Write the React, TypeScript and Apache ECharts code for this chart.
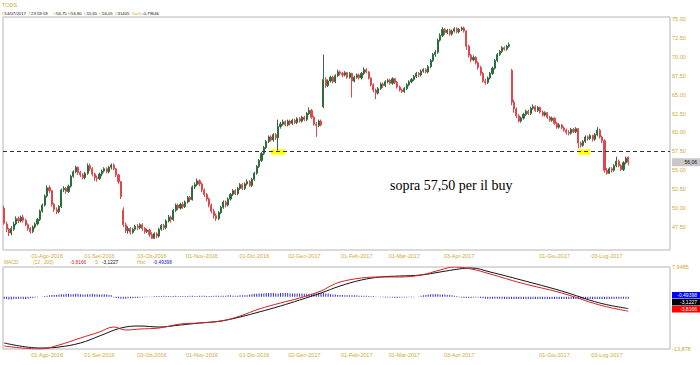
import React, { useEffect, useRef } from 'react';
import * as echarts from 'echarts';

// ---------- data ----------
const MONTHS_IT = ['Gen', 'Feb', 'Mar', 'Apr', 'Mag', 'Giu', 'Lug', 'Ago', 'Set', 'Ott', 'Nov', 'Dic'];
const HOLIDAYS = ['2016-08-15', '2016-12-26', '2017-04-14', '2017-04-17', '2017-05-01', '2017-08-15'];
const SLOT_COUNT = 280;
const TICK_LABELS = ['01-Ago-2016', '01-Set-2016', '03-Ott-2016', '01-Nov-2016', '01-Dic-2016', '02-Gen-2017',
  '01-Feb-2017', '01-Mar-2017', '03-Apr-2017', '01-Giu-2017', '03-Lug-2017'];
const PRICE_TICKS = [47.5, 50, 52.5, 55, 57.5, 60, 62.5, 65, 67.5, 70, 72.5, 75];
const PRICE_MIN = 44.46;
const PRICE_MAX = 75.26;
const MACD_MIN = -13.878;
const MACD_MAX = 7.9485;
const BUY_LEVEL = 57.5;
const LAST_PRICE = 56.06;

// [open, close, low, high]
const ohlc: number[][] = [
  [50.0, 48.0, 47.8, 50.3], [47.9, 47.2, 46.8, 48.2], [47.2, 46.7, 46.3, 47.4], [46.7, 47.3, 46.4, 47.6], [47.2, 47.9, 47.0, 48.2],
  [47.9, 48.6, 47.7, 48.9], [48.6, 48.3, 48.0, 48.9], [48.3, 48.8, 48.1, 49.0], [48.8, 48.4, 48.1, 49.1], [48.4, 47.8, 47.6, 48.6],
  [47.8, 47.3, 47.0, 48.0], [47.3, 46.9, 46.6, 47.5], [46.9, 47.5, 46.7, 47.7], [47.5, 47.9, 47.3, 48.1], [47.9, 48.5, 47.7, 48.7],
  [48.5, 49.6, 48.3, 49.8], [49.6, 50.4, 49.4, 50.6], [50.4, 51.6, 50.2, 51.8], [51.6, 52.7, 51.4, 53.0], [52.7, 52.3, 52.0, 53.0],
  [52.3, 50.5, 50.2, 52.4], [50.5, 49.8, 49.5, 50.7], [49.8, 49.5, 49.2, 50.1], [49.5, 50.2, 49.3, 50.4], [50.2, 52.4, 50.0, 52.6],
  [52.4, 52.6, 52.1, 52.9], [52.6, 52.2, 51.9, 52.8], [52.2, 52.9, 52.0, 53.1], [52.9, 54.2, 52.7, 54.4], [54.2, 54.8, 54.0, 55.0],
  [54.8, 55.4, 54.6, 55.6], [55.4, 54.7, 54.4, 55.5], [54.7, 54.4, 54.1, 54.9], [54.4, 54.0, 53.8, 54.6], [54.0, 54.6, 53.8, 54.8],
  [54.6, 55.6, 54.4, 55.9], [55.6, 55.2, 54.9, 55.9], [55.2, 54.5, 54.2, 55.4], [54.5, 54.0, 53.6, 54.7], [54.0, 53.9, 53.5, 54.3],
  [53.9, 54.5, 53.7, 54.7], [54.5, 54.9, 54.2, 55.1], [54.9, 55.2, 54.7, 55.4], [55.2, 54.8, 54.6, 55.4], [54.8, 55.4, 54.6, 55.6],
  [55.4, 55.7, 55.1, 55.9], [55.7, 55.2, 55.0, 55.9], [55.2, 54.4, 54.1, 55.3], [54.4, 53.5, 53.2, 54.5], [53.5, 51.5, 51.2, 53.6],
  [49.7, 47.8, 47.5, 50.1], [47.8, 47.0, 46.7, 48.1], [47.0, 47.3, 46.6, 47.6], [47.3, 46.8, 46.5, 47.5], [46.8, 47.2, 46.6, 47.4],
  [47.2, 47.6, 47.0, 47.8], [47.6, 47.4, 47.1, 47.9], [47.4, 47.8, 47.2, 48.0], [47.8, 47.3, 47.0, 48.0], [47.3, 46.9, 46.6, 47.5],
  [46.9, 47.1, 46.7, 47.3], [47.1, 46.5, 46.2, 47.3], [46.5, 46.0, 45.9, 46.8], [46.0, 46.6, 45.9, 46.8], [46.6, 46.3, 46.0, 46.8],
  [46.3, 47.2, 46.1, 47.4], [47.2, 47.7, 47.0, 47.9], [47.7, 47.4, 47.1, 47.9], [47.4, 48.3, 47.2, 48.5], [48.3, 48.8, 48.1, 49.1],
  [48.8, 48.5, 48.1, 49.0], [48.5, 49.7, 48.3, 49.9], [49.7, 50.4, 49.5, 50.6], [50.4, 50.0, 49.7, 50.6], [50.0, 50.5, 49.8, 50.7],
  [50.5, 50.2, 49.9, 50.8], [50.2, 50.8, 50.0, 51.0], [50.8, 51.4, 50.6, 51.6], [51.4, 51.1, 50.8, 51.6], [51.1, 52.8, 51.0, 53.0],
  [52.8, 53.1, 52.5, 53.4], [53.1, 53.6, 52.9, 53.9], [53.6, 53.2, 52.9, 53.8], [53.2, 52.4, 52.1, 53.4], [52.4, 51.8, 51.5, 52.6],
  [51.8, 51.2, 50.9, 52.0], [51.2, 50.4, 50.1, 51.4], [50.4, 49.6, 49.3, 50.6], [49.6, 49.0, 48.6, 49.9], [49.0, 48.6, 48.3, 49.3],
  [48.6, 49.4, 48.4, 49.6], [49.4, 50.1, 49.2, 50.3], [50.1, 50.8, 49.9, 51.0], [50.8, 50.4, 50.1, 51.0], [50.4, 51.2, 50.2, 51.4],
  [51.2, 51.8, 51.0, 52.0], [51.8, 52.3, 51.6, 52.5], [52.3, 51.9, 51.7, 52.5], [51.9, 52.6, 51.7, 52.8], [52.6, 53.1, 52.4, 53.3],
  [53.1, 52.6, 52.4, 53.3], [52.6, 53.2, 52.4, 53.4], [53.2, 53.5, 53.0, 53.8], [53.5, 53.0, 52.8, 53.7], [53.0, 53.8, 52.8, 54.0],
  [53.8, 54.6, 53.6, 54.8], [54.6, 55.5, 54.4, 55.7], [55.5, 56.3, 55.3, 56.5], [56.3, 57.2, 56.1, 57.4], [57.2, 58.0, 57.0, 58.2],
  [58.0, 58.8, 57.8, 59.0], [58.8, 59.4, 58.6, 59.6], [59.4, 59.0, 58.8, 59.6], [59.0, 59.7, 58.8, 59.9], [59.7, 59.3, 59.0, 59.9],
  [59.3, 60.8, 57.6, 61.7], [60.8, 61.1, 60.5, 61.4], [61.1, 61.4, 60.9, 61.7], [61.4, 61.0, 60.8, 61.6], [61.0, 61.5, 60.8, 61.7],
  [61.5, 61.2, 60.9, 61.7], [61.2, 61.6, 61.0, 61.8], [61.6, 61.3, 61.1, 61.8], [61.3, 61.8, 61.1, 62.0], [61.8, 61.5, 61.3, 62.0],
  [61.5, 62.0, 61.3, 62.2], [62.0, 61.7, 61.5, 62.2], [61.7, 62.5, 61.5, 62.7], [62.5, 62.9, 62.3, 63.3], [62.9, 62.0, 61.8, 63.1],
  [62.0, 61.1, 60.9, 62.2], [61.1, 60.9, 59.4, 61.4], [60.9, 61.5, 60.7, 61.7], [61.5, 61.0, 60.8, 61.7], [63.4, 67.0, 63.2, 70.3],
  [67.0, 66.2, 65.9, 67.3], [66.2, 66.8, 66.0, 67.0], [66.8, 67.3, 66.6, 67.5], [67.3, 66.7, 66.5, 67.5], [66.7, 67.5, 66.5, 67.7],
  [67.5, 68.0, 67.3, 68.3], [68.0, 67.8, 67.5, 68.2], [67.8, 67.6, 67.3, 68.0], [67.6, 67.9, 67.4, 68.1], [67.9, 67.3, 67.1, 68.0],
  [67.3, 67.8, 67.1, 68.0], [67.8, 66.8, 64.6, 67.9], [66.8, 67.3, 66.6, 67.5], [67.3, 67.6, 67.1, 67.8], [67.6, 67.2, 67.0, 67.8],
  [67.2, 67.8, 67.0, 68.0], [67.8, 68.3, 67.6, 68.6], [68.3, 68.0, 67.8, 68.5], [68.0, 67.2, 67.0, 68.1], [67.2, 66.3, 66.1, 67.3],
  [66.3, 65.6, 65.3, 66.5], [65.6, 65.2, 64.4, 65.8], [65.2, 65.8, 65.0, 66.0], [65.8, 66.4, 65.6, 66.6], [66.4, 66.2, 65.9, 66.6],
  [66.2, 66.7, 66.0, 66.9], [66.7, 66.9, 66.5, 67.1], [66.9, 66.5, 66.3, 67.1], [66.5, 67.1, 66.3, 67.3], [67.1, 66.6, 66.4, 67.2],
  [66.6, 66.0, 65.8, 66.8], [66.0, 65.6, 65.4, 66.2], [65.6, 65.4, 65.2, 65.8], [65.4, 65.8, 65.2, 66.0], [65.8, 66.3, 65.6, 66.5],
  [66.3, 66.7, 66.1, 66.9], [66.7, 67.0, 66.5, 67.2], [67.0, 67.4, 66.8, 67.6], [67.4, 67.8, 67.2, 68.0], [67.8, 67.6, 67.3, 68.0],
  [67.6, 68.1, 67.4, 68.3], [68.1, 68.3, 67.9, 68.5], [68.3, 68.0, 67.8, 68.5], [68.0, 68.7, 67.8, 68.9], [68.7, 69.5, 68.5, 69.7],
  [69.5, 70.3, 69.3, 70.5], [70.3, 70.6, 70.0, 70.9], [70.6, 72.2, 70.4, 72.4], [72.2, 72.8, 72.0, 73.1], [72.8, 73.6, 72.6, 73.9],
  [73.6, 73.2, 72.9, 73.8], [73.2, 73.5, 73.0, 73.7], [73.5, 73.0, 72.8, 73.7], [73.0, 73.4, 72.8, 73.6], [73.4, 73.7, 73.2, 73.9],
  [73.7, 73.3, 73.1, 73.9], [73.3, 73.6, 73.1, 73.8], [73.6, 73.8, 73.4, 74.0], [73.8, 73.4, 73.2, 74.0], [73.4, 71.4, 70.9, 73.5],
  [71.4, 70.2, 69.9, 71.6], [70.2, 69.6, 69.3, 70.4], [69.6, 69.9, 69.4, 70.2], [69.9, 69.2, 69.0, 70.1], [69.2, 68.6, 68.3, 69.4],
  [68.6, 67.8, 67.5, 68.8], [67.8, 66.8, 66.6, 68.0], [66.8, 66.6, 66.3, 67.1], [66.6, 67.2, 66.4, 67.4], [67.2, 67.8, 67.0, 68.0],
  [67.8, 68.5, 67.6, 68.7], [68.5, 69.5, 68.3, 69.7], [69.5, 70.3, 69.3, 70.5], [70.3, 70.7, 70.1, 70.9], [70.7, 71.2, 70.5, 71.4],
  [71.2, 71.0, 70.8, 71.4], [71.0, 71.4, 70.8, 71.6], [71.4, 71.6, 71.2, 71.9], [68.2, 64.0, 63.6, 68.4], [64.0, 63.1, 62.6, 64.3],
  [63.1, 62.2, 61.9, 63.3], [62.2, 61.5, 61.3, 62.4], [61.5, 61.9, 61.3, 62.1], [61.9, 62.4, 61.7, 62.6], [62.4, 62.8, 62.2, 63.0],
  [62.8, 62.5, 62.3, 63.0], [62.5, 63.2, 62.3, 63.4], [63.2, 63.4, 63.0, 63.7], [63.4, 62.9, 62.7, 63.6], [62.9, 63.3, 62.7, 63.5],
  [63.3, 62.7, 62.5, 63.4], [62.7, 62.3, 62.1, 62.9], [62.3, 62.6, 62.1, 62.8], [62.6, 62.0, 61.8, 62.7], [62.0, 61.6, 61.4, 62.2],
  [61.6, 61.9, 61.4, 62.1], [61.9, 61.2, 61.0, 62.0], [61.2, 60.7, 60.5, 61.4], [60.7, 61.0, 60.5, 61.2], [61.0, 60.6, 60.4, 61.1],
  [60.6, 60.3, 60.1, 60.8], [60.3, 60.0, 59.7, 60.5], [60.0, 59.9, 59.6, 60.3], [59.9, 60.4, 59.7, 60.6], [60.4, 60.1, 59.9, 60.6],
  [60.1, 60.5, 59.9, 60.7], [60.5, 58.6, 57.9, 60.6], [58.6, 58.3, 58.0, 58.8], [58.3, 58.8, 58.1, 59.0], [58.8, 59.4, 58.6, 59.6],
  [59.4, 59.2, 58.9, 59.6], [59.2, 59.6, 59.0, 59.8], [59.6, 59.1, 58.8, 59.7], [59.1, 59.7, 58.9, 59.9], [59.7, 60.3, 59.5, 60.7],
  [60.3, 59.4, 59.2, 60.5], [59.4, 58.9, 58.6, 59.6], [58.9, 55.0, 54.7, 59.1], [55.0, 54.6, 54.4, 55.3], [54.6, 55.2, 54.5, 55.4],
  [55.2, 55.0, 54.7, 55.4], [55.0, 55.6, 54.8, 55.8], [55.6, 56.2, 55.4, 56.8], [56.2, 55.6, 55.4, 56.4], [55.6, 55.1, 54.9, 55.8],
  [55.1, 56.0, 54.9, 56.2], [56.0, 56.6, 55.8, 56.8], [56.75, 56.05, 55.65, 56.8],
];

// MACD (red) and signal (black), read at sampled candles: [candle index, value]
const macdLine: number[][] = [
  [0, -13.08], [15, -13.88], [23, -12.82], [32, -10.95], [40, -9.35], [46, -8.02], [51, -8.82], [57, -8.56],
  [65, -8.29], [74, -7.22], [82, -6.96], [91, -6.43], [99, -5.1], [107, -3.23], [116, -1.63], [124, -0.3],
  [133, 1.56], [137, 2.89], [141, 3.96], [150, 5.02], [158, 5.29], [166, 5.29], [175, 5.82], [183, 7.15],
  [189, 7.95], [196, 7.42], [204, 6.09], [217, 3.69], [234, 1.03], [250, -2.17], [262, -3.8166],
];
const signalLine: number[][] = [
  [0, -12.28], [15, -13.61], [23, -13.35], [32, -12.28], [40, -10.42], [49, -8.29], [57, -7.76], [65, -8.02],
  [74, -7.49], [82, -6.96], [91, -6.43], [99, -5.36], [107, -4.03], [116, -2.43], [124, -0.84], [133, 1.03],
  [141, 2.89], [150, 4.49], [158, 5.29], [166, 5.55], [175, 5.82], [183, 6.62], [191, 7.42], [196, 7.68],
  [204, 6.62], [217, 4.49], [234, 1.56], [250, -1.63], [262, -3.1227],
];
const histValues: number[] = [
  -0.5, -0.6, -0.7, -0.7, -0.6, -0.6, -0.5, -0.5, -0.6, -0.6, -0.5, -0.4, -0.3, -0.2, -0.1,
  0.0, 0.1, 0.2, 0.3, 0.4, 0.5, 0.5, 0.5,
  0.6, 0.7, 0.7, 0.8, 0.8, 0.7, 0.7, 0.8, 0.8, 0.7, 0.6, 0.6, 0.7, 0.7, 0.8, 0.7, 0.7, 0.6, 0.6, 0.7, 0.6, 0.5, 0.4,
  -0.2, -0.3, -0.4, -0.5, -0.5, -0.5, -0.4, -0.4, -0.4, -0.3, -0.3, -0.2, -0.2, -0.1, -0.1,
  0.1, 0.1, 0.2, 0.2, 0.2, 0.2, 0.3, 0.2, 0.2, 0.2, 0.2, 0.3, 0.2, 0.2, 0.2, 0.2, 0.2, 0.3, 0.3, 0.2, 0.2,
  0.3, 0.3, 0.3, 0.2, 0.2, 0.2, 0.3, 0.3, 0.3, 0.3, 0.3, 0.3, 0.4, 0.4, 0.3, 0.3, 0.3, 0.4, 0.4, 0.4, 0.4,
  0.6, 0.7, 0.8, 0.8, 0.9, 0.9, 0.9, 1.0, 1.0, 1.0, 1.0, 0.9, 0.9, 1.0, 1.0, 1.0, 1.0, 0.9, 0.9, 0.9, 0.9, 0.9,
  0.9, 0.8, 0.8, 0.8, 0.8, 0.8, 0.9, 1.0, 1.0, 1.0, 0.9, 0.9,
  0.7, 0.6, 0.6, 0.5, 0.5, 0.5, 0.4, 0.4, 0.4, 0.4, 0.4, 0.4, 0.3, 0.3, 0.3, 0.3, 0.2, 0.2, 0.2, 0.1, 0.1,
  -0.1, -0.1, -0.2, -0.2, -0.2, -0.2, -0.3, -0.3, -0.2, -0.2, -0.2, -0.2, -0.1, -0.1, -0.1, 0.0, 0.1,
  0.3, 0.4, 0.5, 0.6, 0.7, 0.7, 0.7, 0.7, 0.6, 0.6, 0.6, 0.5, 0.5, 0.4, 0.3, 0.2,
  -0.1, -0.2, -0.3, -0.3, -0.3, -0.3, -0.2, -0.2, -0.2,
  -0.3, -0.4, -0.5, -0.5, -0.5, -0.5, -0.5, -0.5, -0.5, -0.5, -0.6, -0.6, -0.6, -0.6, -0.6, -0.6, -0.6, -0.6, -0.6, -0.6,
  -0.6, -0.6, -0.6, -0.6, -0.6, -0.6, -0.6, -0.6, -0.6, -0.6, -0.6, -0.6, -0.6, -0.6, -0.6, -0.6, -0.6, -0.6, -0.6, -0.6,
  -0.6, -0.6, -0.6, -0.6, -0.6, -0.6, -0.6, -0.6, -0.6, -0.6, -0.6, -0.6, -0.6, -0.6, -0.6, -0.5, -0.5, -0.5, -0.5, -0.5,
  -0.5, -0.5, -0.5,
];

// ---------- helpers ----------
function buildCategories(): string[] {
  const out: string[] = [];
  const d = new Date(Date.UTC(2016, 6, 6));
  while (out.length < SLOT_COUNT) {
    const dow = d.getUTCDay();
    const iso = d.toISOString().slice(0, 10);
    if (dow !== 0 && dow !== 6 && !HOLIDAYS.includes(iso)) {
      out.push(`${String(d.getUTCDate()).padStart(2, '0')}-${MONTHS_IT[d.getUTCMonth()]}-${d.getUTCFullYear()}`);
    }
    d.setUTCDate(d.getUTCDate() + 1);
  }
  return out;
}

const GOLD = '#cfa932';
const GREEN = '#2f6b3c';
const RED = '#e0474c';
const FONT = 'Liberation Sans, Arial, sans-serif';

export default function App() {
  const ref = useRef<HTMLDivElement>(null);
  useEffect(() => {
    if (!ref.current) return;
    const chart = echarts.init(ref.current, undefined, { renderer: 'svg' });
    const categories = buildCategories();
    const labelInterval = (_i: number, v: string) => TICK_LABELS.includes(v);
    const xCommon = {
      type: 'category' as const,
      data: categories,
      boundaryGap: true,
      axisLine: { show: false },
      axisTick: { show: false },
      splitLine: { show: false },
      axisLabel: { interval: labelInterval, color: GOLD, fontSize: 5.5, fontFamily: FONT, margin: 3 },
    };
    chart.setOption({
      animation: false,
      backgroundColor: '#ffffff',
      grid: [
        { left: 3, right: 30, top: 17, height: 233, show: true, borderColor: '#b4b4b4', borderWidth: 1, containLabel: false },
        { left: 3, right: 30, top: 267, height: 82, show: true, borderColor: '#b4b4b4', borderWidth: 1, containLabel: false },
      ],
      xAxis: [
        { ...xCommon, gridIndex: 0 },
        { ...xCommon, gridIndex: 1 },
      ],
      yAxis: [
        {
          type: 'value', gridIndex: 0, position: 'right', min: PRICE_MIN, max: PRICE_MAX,
          axisLine: { show: false }, axisTick: { show: false }, splitLine: { show: false },
          axisLabel: {
            customValues: PRICE_TICKS, formatter: (v: number) => v.toFixed(2),
            color: GOLD, fontSize: 5.5, fontFamily: FONT, margin: 2,
          },
        },
        {
          type: 'value', gridIndex: 1, position: 'right', min: MACD_MIN, max: MACD_MAX,
          axisLine: { show: false }, axisTick: { show: false }, splitLine: { show: false },
          axisLabel: {
            customValues: [MACD_MIN, MACD_MAX],
            formatter: (v: number) => String(v).replace('.', ','),
            color: GOLD, fontSize: 5.5, fontFamily: FONT, margin: 2,
          },
        },
      ],
      series: [
        {
          type: 'candlestick', xAxisIndex: 0, yAxisIndex: 0, data: ohlc, barWidth: 1.6,
          itemStyle: { color: GREEN, color0: RED, borderColor: GREEN, borderColor0: RED, borderWidth: 1 },
          markLine: {
            silent: true, symbol: 'none', label: { show: false },
            lineStyle: { type: [4, 3], color: '#333333', width: 1 },
            data: [{ yAxis: BUY_LEVEL }],
          },
          markArea: {
            silent: true, itemStyle: { color: '#ffff00', opacity: 1 },
            data: [
              [{ xAxis: categories[112], yAxis: 57.05 }, { xAxis: categories[118], yAxis: 57.8 }],
              [{ xAxis: categories[241], yAxis: 57.05 }, { xAxis: categories[246], yAxis: 57.8 }],
            ],
          },
          z: 3,
        },
        {
          type: 'bar', xAxisIndex: 1, yAxisIndex: 1, data: histValues, barWidth: 1,
          itemStyle: { color: '#2b2bd0' }, z: 1,
        },
        {
          type: 'line', xAxisIndex: 1, yAxisIndex: 1, data: signalLine, smooth: 0.4, symbol: 'none',
          lineStyle: { color: '#111111', width: 1 }, z: 2,
        },
        {
          type: 'line', xAxisIndex: 1, yAxisIndex: 1, data: macdLine, smooth: 0.4, symbol: 'none',
          lineStyle: { color: '#d42020', width: 1 }, z: 3,
        },
      ],
    });

    const py = chart.convertToPixel({ yAxisIndex: 0 }, LAST_PRICE) as number;
    const t = (x: number, y: number, text: string, fill: string, size = 4.3) => ({
      type: 'text', x, y, style: { text, fill, font: `${size}px ${FONT}`, textVerticalAlign: 'middle' }, z: 10,
    });
    const box = (y: number, h: number, bg: string, text: string, fill: string) => ({
      type: 'group', z: 10,
      children: [
        { type: 'rect', shape: { x: 672, y, width: 28, height: h }, style: { fill: bg } },
        { type: 'text', x: 697, y: y + h / 2, style: { text, fill, font: `5px ${FONT}`, textAlign: 'right', textVerticalAlign: 'middle' } },
      ],
    });
    chart.setOption({
      graphic: [
        t(2, 5, 'TODS', GOLD, 5.5),
        t(2, 13, 'D', GOLD), t(4.5, 13, '14/07/2017', '#111'),
        t(28, 13, 'T', GOLD), t(31, 13, '23:59:59', '#111'),
        t(53, 13, 'O', GOLD), t(56, 13, '56,75', '#111'),
        t(68, 13, 'H', GOLD), t(71, 13, '56,80', '#111'),
        t(84, 13, 'L', GOLD), t(86.5, 13, '55,65', '#111'),
        t(99, 13, 'C', GOLD), t(102, 13, '56,05', '#111'),
        t(115, 13, 'V', GOLD), t(117.5, 13, '31405', '#111'),
        t(132, 13, 'Var%', GOLD), t(142, 13, '-0,79646', '#111'),
        t(4, 262, 'MACD', GOLD, 4.8), t(33, 262, '(12 , 200)', GOLD, 4.8),
        t(70, 262, '-3,8166', '#d42020', 4.8), t(95, 262, 'S', GOLD, 4.8), t(102, 262, '-3,1227', '#111', 4.8),
        t(137, 262, 'Hist', GOLD, 4.8), t(153, 262, '-0,49398', '#2020c0', 4.8),
        {
          type: 'text', x: 390, y: 185, z: 10,
          style: { text: 'sopra 57,50 per il buy', fill: '#000', font: '14px "Liberation Serif", "Times New Roman", serif', textVerticalAlign: 'middle' },
        },
        box(py - 4, 8, '#c8c8c8', '56,06', '#111'),
        box(292, 6.5, '#0000ff', '-0,49398', '#fff'),
        box(299, 6.5, '#000000', '-3,1227', '#fff'),
        box(306, 6.5, '#ff0000', '-3,8166', '#fff'),
      ],
    });
    return () => chart.dispose();
  }, []);
  return <div ref={ref} style={{ position: 'absolute', left: 0, top: 0, width: 700, height: 365 }} />;
}
